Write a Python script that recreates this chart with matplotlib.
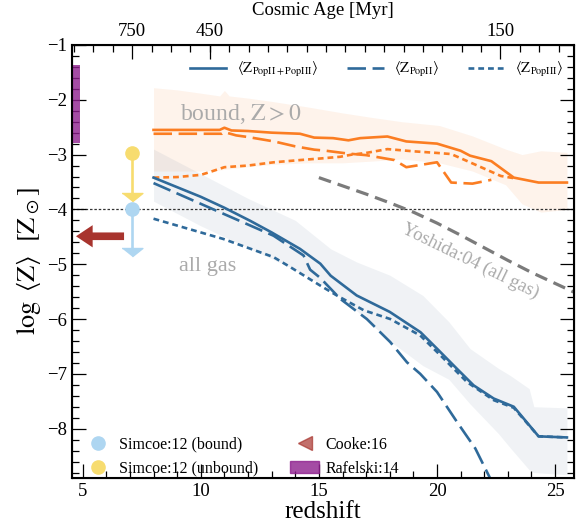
import numpy as np
import matplotlib
matplotlib.use('Agg')
import matplotlib.pyplot as plt
from matplotlib.lines import Line2D
from matplotlib.patches import Patch

plt.rcParams['font.family'] = ['Liberation Serif', 'DejaVu Serif']
plt.rcParams['mathtext.fontset'] = 'stix'

# --- data ---
# bound gas, Z > 0
z_b_tot = [8.0, 9.0, 10.0, 10.8, 11.0, 11.3, 12.0, 13.0, 14.2, 14.8, 15.6, 16.25, 16.75, 17.9, 18.7, 20.0, 21.0, 21.4, 22.3, 23.25, 24.3, 25.5]
b_tot = [-2.55, -2.55, -2.55, -2.55, -2.51, -2.56, -2.57, -2.60, -2.62, -2.69, -2.70, -2.74, -2.70, -2.67, -2.76, -2.80, -2.93, -3.02, -3.12, -3.42, -3.51, -3.51]

z_b_p2 = [8.0, 10.0, 10.9, 11.0, 11.5, 12.0, 13.1, 14.0, 14.8, 15.3, 16.2, 17.0, 18.2, 18.7, 20.0, 20.6, 21.5, 22.3]
b_p2 = [-2.62, -2.62, -2.62, -2.59, -2.65, -2.68, -2.76, -2.85, -2.91, -2.93, -2.98, -3.01, -3.10, -3.23, -3.14, -3.51, -3.53, -3.46]

z_b_p3 = [8.0, 9.0, 10.0, 10.3, 11.0, 12.0, 13.1, 14.2, 15.1, 15.9, 16.4, 17.0, 17.9, 19.0, 20.0, 20.6, 21.55, 22.7, 23.25]
b_p3 = [-3.42, -3.41, -3.37, -3.33, -3.23, -3.20, -3.14, -3.10, -3.07, -3.04, -3.00, -2.97, -2.90, -2.94, -2.97, -2.99, -3.17, -3.39, -3.43]

z_b_band = [8, 9, 10, 10.8, 11.0, 11.2, 12, 13, 14.5, 16, 17.2, 18.5, 20.1, 21.5, 22.9, 23.6, 24.4, 25.5]
b_hi = [-1.78, -1.82, -1.88, -1.93, -1.83, -1.93, -1.97, -2.03, -2.13, -2.24, -2.32, -2.40, -2.47, -2.66, -2.90, -3.00, -2.93, -2.96]
b_lo = [-3.30, -3.30, -3.30, -3.28, -3.27, -3.26, -3.22, -3.18, -3.15, -3.15, -3.12, -3.08, -3.15, -3.30, -3.55, -3.90, -4.05, -4.00]

# all gas
z_g_tot = [8.0, 10.0, 11.0, 12.1, 13.0, 14.2, 15.06, 15.5, 16.6, 18.0, 19.3, 20.0, 20.85, 21.55, 22.4, 23.25, 24.3, 25.5]
g_tot = [-3.42, -3.77, -3.97, -4.21, -4.42, -4.72, -4.99, -5.21, -5.57, -5.87, -6.24, -6.54, -6.91, -7.21, -7.45, -7.60, -8.14, -8.16]

z_g_p2 = [8.0, 10.96, 13.08, 14.35, 14.63, 15.06, 15.9, 17.03, 18.02, 18.73, 19.29, 20.0, 20.85, 21.62, 22.3]
g_p2 = [-3.52, -4.08, -4.48, -4.84, -5.10, -5.25, -5.63, -6.00, -6.42, -6.79, -7.00, -7.33, -7.88, -8.36, -8.95]

z_g_p3 = [8.0, 10.96, 13.08, 13.78, 15.06, 15.76, 16.9, 18.02, 19.29, 20.14, 21.27, 22.4, 23.25, 24.3, 25.5]
g_p3 = [-4.17, -4.54, -4.87, -5.05, -5.39, -5.57, -5.84, -6.00, -6.30, -6.66, -7.15, -7.48, -7.62, -8.14, -8.16]

z_g_band = [8, 10, 12, 14, 15.5, 16.6, 18, 19.4, 20.5, 21.4, 22.6, 23.1, 23.9, 24.1, 25.5]
g_hi = [-2.90, -3.35, -3.80, -4.20, -4.72, -4.96, -5.20, -5.57, -6.05, -6.54, -6.90, -7.03, -7.27, -7.60, -7.62]
g_lo = [-3.85, -4.30, -4.70, -5.10, -5.45, -5.85, -6.40, -6.85, -7.10, -7.55, -8.09, -8.35, -8.75, -8.80, -8.84]

# Yoshida:04
z_yosh = [15, 16, 17, 18, 19, 20, 21, 22, 23, 24, 25, 26]
yosh = [-3.42, -3.57, -3.72, -3.88, -4.05, -4.25, -4.47, -4.70, -4.93, -5.15, -5.35, -5.55]

# observations
simcoe_z = 7.07
simcoe_bound = -3.99
simcoe_unbound = -2.98
simcoe_lim = 0.86
cooke_z = [6.87, 4.6]
cooke_logZ = -4.49
rafelski_z = [4.55, 4.9]
rafelski_logZ = [-2.78, -1.37]

age_ticks = [750, 450, 150]  # Myr

blue = '#2f6a9a'
orange = '#fb7d22'
c_bound = '#aed6f1'
c_unbound = '#f7dc6f'

fig = plt.figure(figsize=(5.79, 5.32), dpi=100)
ax = fig.add_axes([0.1244, 0.1015, 0.8670, 0.8140])

ax.fill_between(z_b_band, b_lo, b_hi, color=orange, alpha=0.09, lw=0)
ax.fill_between(z_g_band, g_lo, g_hi, color='#6d86a3', alpha=0.10, lw=0)

lw = 1.9
ax.plot(z_b_tot, b_tot, color=orange, lw=lw)
ax.plot(z_b_p2, b_p2, color=orange, lw=lw, dashes=(7, 2.5))
ax.plot(z_b_p3, b_p3, color=orange, lw=lw, dashes=(2.2, 1.5))
ax.plot(z_g_tot, g_tot, color=blue, lw=lw)
ax.plot(z_g_p2, g_p2, color=blue, lw=lw, dashes=(7, 2.5))
ax.plot(z_g_p3, g_p3, color=blue, lw=lw, dashes=(2.2, 1.5))
ax.plot(z_yosh, yosh, color='#7b7b7b', lw=2.3, dashes=(4, 2.2))

ax.axhline(-4, color='#333333', lw=0.9, dashes=(2, 1.5), zorder=1)

# Simcoe upper limits: circle, stem and flat arrow head
head = [(-1, 0), (1, 0), (0, -0.8)]
for val, col in [(simcoe_unbound, c_unbound), (simcoe_bound, c_bound)]:
    ax.plot([simcoe_z, simcoe_z], [val, val - simcoe_lim + 0.05], color=col, lw=1.9, zorder=5)
    ax.plot(simcoe_z, val - simcoe_lim + 0.14, marker=head, ms=15, color=col, zorder=5)
    ax.plot(simcoe_z, val, 'o', ms=9.5, color=col, zorder=6)

ax.annotate('', xy=(cooke_z[1], cooke_logZ), xytext=(cooke_z[0], cooke_logZ),
            arrowprops=dict(arrowstyle='simple,head_width=1.6,head_length=1.2,tail_width=0.55',
                            color='#a8342e', lw=0), zorder=5)
ax.fill_betweenx(rafelski_logZ, rafelski_z[0], rafelski_z[1], color='#8e1f8e', alpha=0.8, lw=0, zorder=4)

ax.text(11.7, -2.26, r'bound, $\mathrm{Z} > 0$', color='#aaaaaa', fontsize=17, ha='center', va='center')
ax.text(10.3, -5.05, 'all gas', color='#aaaaaa', fontsize=16, ha='center', va='center')
ax.text(21.4, -4.94, 'Yoshida:04 (all gas)', color='#aaaaaa', fontsize=13.5, ha='center', va='center',
        rotation=-26)

ax.set_xlim(4.55, 25.8)
ax.set_ylim(-8.9, -1)
ax.set_xticks([5, 10, 15, 20, 25])
ax.set_xticks(np.arange(5, 26, 1), minor=True)
ax.set_yticks(np.arange(-8, 0, 1))
ax.set_yticks(np.arange(-8.8, -0.9, 0.2), minor=True)
ax.tick_params(which='both', direction='in', right=True, top=False, labelsize=13.5, width=0.9)
ax.tick_params(which='major', length=10)
ax.tick_params(which='minor', length=5)
for s in ax.spines.values():
    s.set_linewidth(1.5)
ax.set_xlabel('redshift', fontsize=18, labelpad=1)
ax.set_ylabel(r'$\log\ \langle \mathrm{Z} \rangle\ \ [\mathrm{Z}_\odot]$', fontsize=19, labelpad=3)

# top axis: cosmic age
H0inv = 977.8 / 67.7
OL, Om = 0.69, 0.31
def z_of_age(t_myr):
    x = np.sinh(t_myr / 1000 * 1.5 * np.sqrt(OL) / H0inv) / np.sqrt(OL / Om)
    return x ** (-2 / 3) - 1
z_age = [z_of_age(t) for t in age_ticks]
step = (z_age[2] - z_age[0]) / 19
ax2 = ax.twiny()
ax2.set_xlim(ax.get_xlim())
ax2.set_xticks(z_age)
ax2.set_xticklabels([str(t) for t in age_ticks])
ax2.set_xticks(np.arange(z_age[0] - 3 * step, 25.8, step), minor=True)
ax2.tick_params(which='both', direction='in', labelsize=13.5, width=0.9)
ax2.tick_params(which='major', length=10)
ax2.tick_params(which='minor', length=5)
ax2.set_xlabel('Cosmic Age [Myr]', fontsize=13.5, labelpad=6)

h_top = [Line2D([], [], color=blue, lw=lw),
         Line2D([], [], color=blue, lw=lw, dashes=(7, 2.5)),
         Line2D([], [], color=blue, lw=lw, dashes=(2.2, 1.5))]
l_top = [r'$\langle \mathrm{Z}_{\mathrm{PopII+PopIII}} \rangle$',
         r'$\langle \mathrm{Z}_{\mathrm{PopII}} \rangle$',
         r'$\langle \mathrm{Z}_{\mathrm{PopIII}} \rangle$']
leg1 = ax.legend(h_top, l_top, loc='upper right', bbox_to_anchor=(1.005, 0.995), ncol=3, frameon=False,
                 fontsize=10.5, handlelength=2.5, columnspacing=2.0, handletextpad=0.7)
ax.add_artist(leg1)

h_bot = [Line2D([], [], ls='', marker='o', ms=9.5, color=c_bound),
         Line2D([], [], ls='', marker='o', ms=9.5, color=c_unbound),
         Line2D([], [], ls='', marker='<', ms=9.5, color='#a8342e', alpha=0.7),
         Patch(color='#8e1f8e', alpha=0.8)]
l_bot = ['Simcoe:12 (bound)', 'Simcoe:12 (unbound)', 'Cooke:16', 'Rafelski:14']
ax.legend(h_bot, l_bot, loc='lower left', bbox_to_anchor=(-0.005, -0.03), ncol=2, frameon=False,
          fontsize=11.5, handlelength=1.8, columnspacing=2.0, handletextpad=0.4)

fig.savefig('out.png', dpi=100)
